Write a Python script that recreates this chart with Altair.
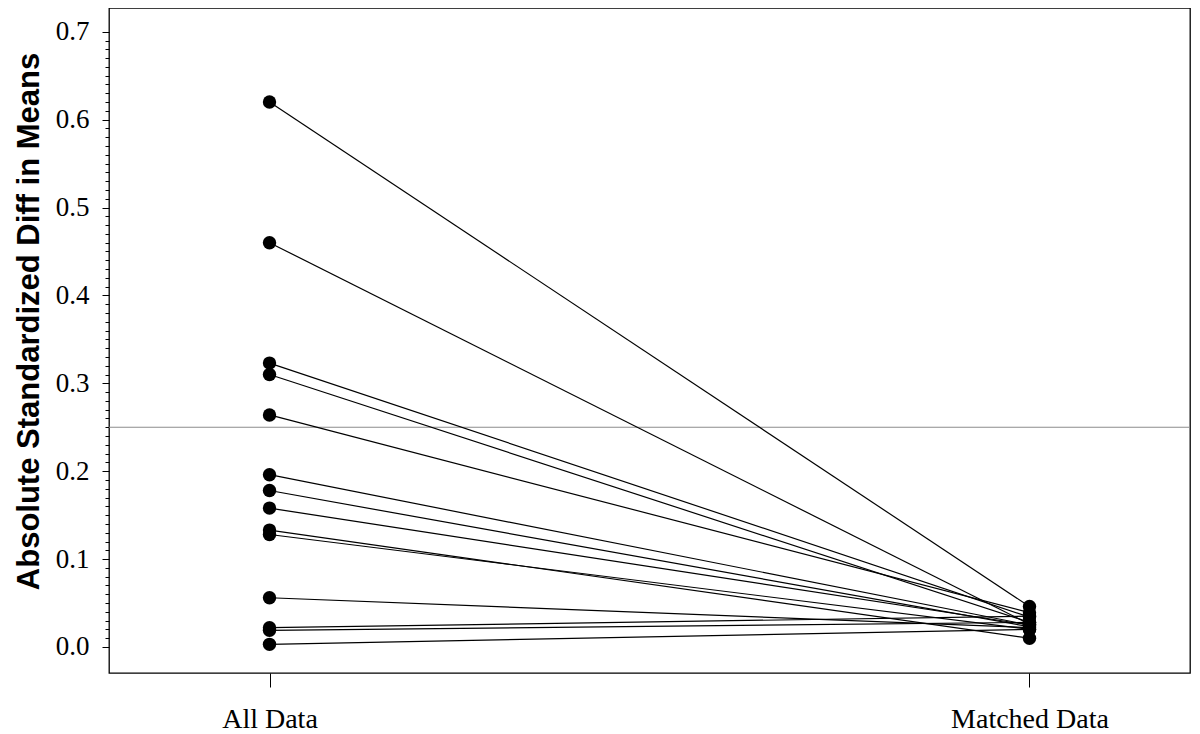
import altair as alt
import pandas as pd

groups = ["All Data", "Matched Data"]
all_data = [0.620, 0.460, 0.323, 0.310, 0.264, 0.196, 0.178, 0.158, 0.133, 0.128, 0.056, 0.022, 0.019, 0.003]
matched_data = [0.046, 0.026, 0.034, 0.028, 0.039, 0.025, 0.023, 0.025, 0.010, 0.020, 0.022, 0.035, 0.028, 0.020]
threshold = [0.25]
y_ticks = [round(k * 0.01, 2) for k in range(0, 71)]

rows = []
for i, (a, m) in enumerate(zip(all_data, matched_data)):
    rows.append({"id": i, "group": groups[0], "value": a})
    rows.append({"id": i, "group": groups[1], "value": m})
df = pd.DataFrame(rows)

major_test = "abs(datum.value*10 - round(datum.value*10)) < 0.001"

x_enc = alt.X(
    "group:N",
    sort=groups,
    scale=alt.Scale(type="point", padding=0.2112),
    axis=alt.Axis(
        title=None, labelAngle=0, tickSize=14, domain=False, grid=False,
        labelFont="Liberation Serif", labelFontSize=28, labelColor="black",
        labelBaseline="alphabetic", labelPadding=40, tickColor="black", tickWidth=1,
    ),
)
y_scale = alt.Scale(domain=[-0.0296, 0.727], nice=False, zero=False)
y_axis = alt.Axis(
    title="Absolute Standardized Diff in Means",
    values=y_ticks,
    tickSize={"condition": {"test": major_test, "value": 7}, "value": 4},
    labelExpr=major_test + " ? format(datum.value, '.1f') : ''",
    labelOverlap=False, labelFont="Liberation Serif", labelFontSize=27,
    labelColor="black", labelPadding=13, domain=False, grid=False,
    tickColor="black", tickWidth=1,
    titleFont="Liberation Sans", titleFontSize=31, titleFontWeight="bold",
    titleColor="black", titleX=-71, titleY=313, titleAngle=270,
    titleAlign="center", titleBaseline="alphabetic",
)

lines = alt.Chart(df).mark_line(color="black", strokeWidth=1.2).encode(
    x=x_enc, y=alt.Y("value:Q", scale=y_scale, axis=y_axis), detail="id:N"
)
points = alt.Chart(df).mark_circle(color="black", opacity=1, size=180).encode(
    x=x_enc, y=alt.Y("value:Q", scale=y_scale, axis=y_axis)
)
rule = alt.Chart(pd.DataFrame({"value": threshold})).mark_rule(
    color="#8c8c8c", strokeWidth=1.2
).encode(y=alt.Y("value:Q", scale=y_scale, axis=y_axis))

chart = alt.layer(rule, lines, points).properties(
    width=1081, height=665, autosize="none",
    padding={"left": 101, "top": 0, "right": 2, "bottom": 60},
).configure_view(stroke="black", strokeWidth=1.3)

chart.save("out.html", embed_options={"renderer": "svg", "actions": False})
